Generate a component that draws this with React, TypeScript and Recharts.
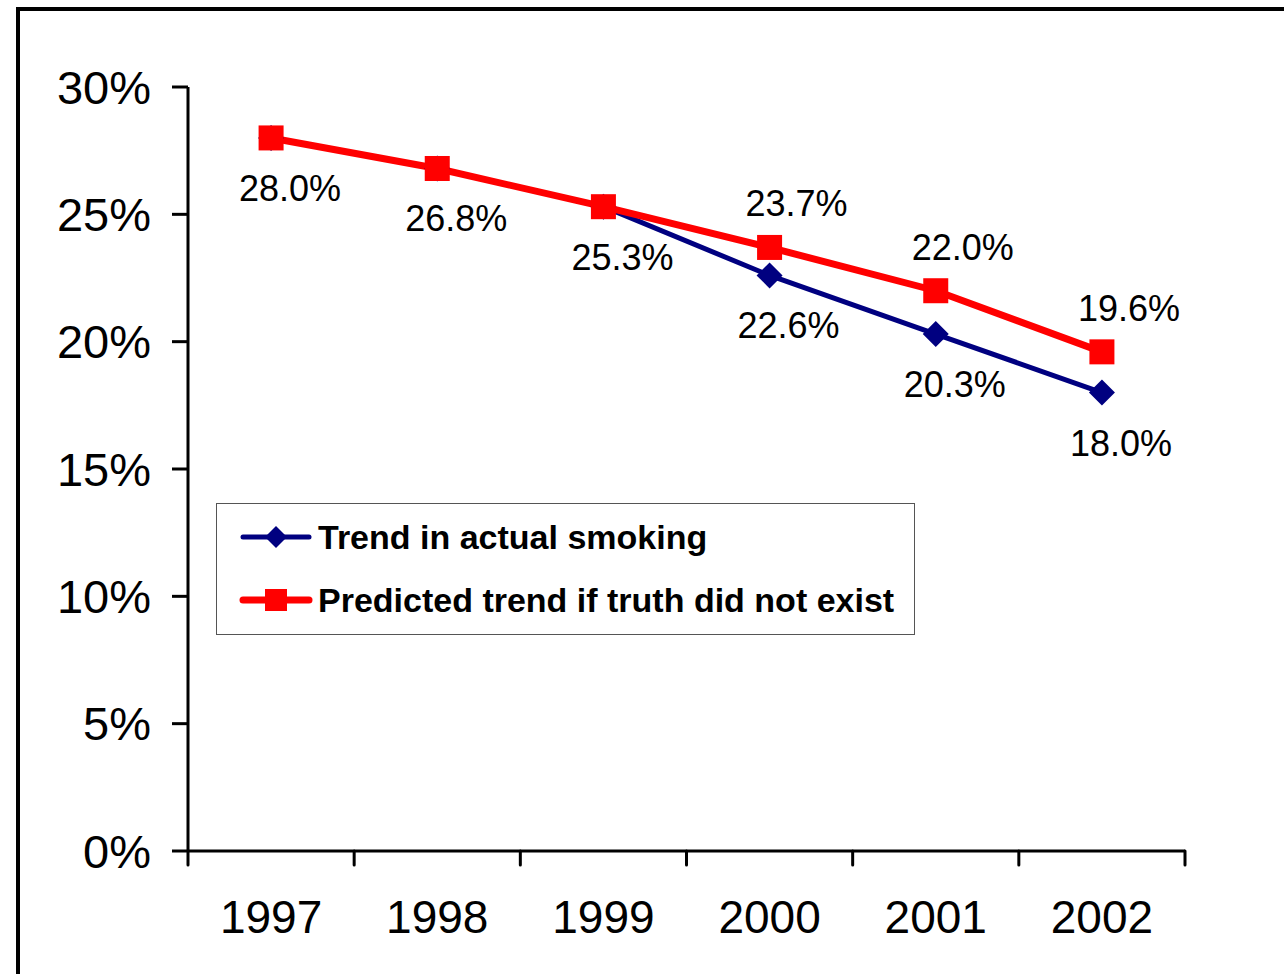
import { LabelList, Legend, Line, LineChart, XAxis, YAxis } from "recharts";

const years = ["1997", "1998", "1999", "2000", "2001", "2002"];
const actualSmoking = [28.0, 26.8, 25.3, 22.6, 20.3, 18.0];
const predictedNoTruth = [28.0, 26.8, 25.3, 23.7, 22.0, 19.6];
const yTicks = [0, 5, 10, 15, 20, 25, 30];
const seriesNames = ["Trend in actual smoking", "Predicted trend if truth did not exist"];
// predicted labels only where the two series split
const predictedLabelFrom = 3;

const font = '"Liberation Sans", Arial, Helvetica, sans-serif';
const navy = "#000080";
const red = "#ff0000";

const data = years.map((year, i) => ({
  x: i + 0.5,
  year,
  actual: actualSmoking[i],
  predicted: predictedNoTruth[i],
}));

// integer ticks = category boundaries, half ticks = year labels
const xTicks = Array.from({ length: years.length * 2 + 1 }, (_, i) => i / 2);

function XTick(props: any) {
  const { x, y, payload } = props;
  const v = Number(payload.value);
  if (Number.isInteger(v)) {
    return <line x1={x} x2={x} y1={y} y2={y + 14} stroke="#000" strokeWidth={3} strokeLinecap="round" />;
  }
  return (
    <text x={x} y={y + 82} textAnchor="middle" fontSize={46} fontFamily={font} fill="#000">
      {years[Math.floor(v)]}
    </text>
  );
}

function Diamond({ cx, cy, size = 13 }: { cx?: number; cy?: number; size?: number }) {
  if (cx == null || cy == null) return null;
  return (
    <path
      d={`M${cx},${cy - size} L${cx + size},${cy} L${cx},${cy + size} L${cx - size},${cy} Z`}
      fill={navy}
    />
  );
}

function Square({ cx, cy, size = 25 }: { cx?: number; cy?: number; size?: number }) {
  if (cx == null || cy == null) return null;
  return <rect x={cx - size / 2} y={cy - size / 2} width={size} height={size} fill={red} />;
}

function pointLabel(below: boolean, fromIndex: number, dx: number) {
  return (props: any) => {
    const { x, y, value, index } = props;
    if (index < fromIndex || x == null || y == null) return null;
    return (
      <text
        x={Number(x) + dx}
        y={below ? Number(y) + 63 : Number(y) - 31}
        textAnchor="middle"
        fontSize={36}
        fontFamily={font}
        fill="#000"
      >
        {`${Number(value).toFixed(1)}%`}
      </text>
    );
  };
}

function LegendBox() {
  return (
    <div
      style={{
        width: 699,
        height: 132,
        boxSizing: "border-box",
        border: "1px solid #555",
        background: "#fff",
        position: "relative",
        fontFamily: font,
        fontWeight: "bold",
        fontSize: 34,
        color: "#000",
      }}
    >
      <svg width={110} height={130} style={{ position: "absolute", left: 0, top: 0 }}>
        <line x1={26} x2={92} y1={33} y2={33} stroke={navy} strokeWidth={5} strokeLinecap="round" />
        <Diamond cx={59} cy={33} size={11} />
        <line x1={26} x2={92} y1={96} y2={96} stroke={red} strokeWidth={7} strokeLinecap="round" />
        <Square cx={59} cy={96} size={22} />
      </svg>
      <div style={{ position: "absolute", left: 101, top: 13, lineHeight: "40px", whiteSpace: "nowrap" }}>
        {seriesNames[0]}
      </div>
      <div style={{ position: "absolute", left: 101, top: 76, lineHeight: "40px", whiteSpace: "nowrap" }}>
        {seriesNames[1]}
      </div>
    </div>
  );
}

export default function App() {
  return (
    <div style={{ position: "fixed", inset: 0, overflow: "hidden", background: "#fff" }}>
      <div
        style={{
          position: "absolute",
          left: 16,
          top: 7,
          width: 1400,
          height: 1100,
          border: "4px solid #000",
        }}
      />
      <div style={{ position: "absolute", left: 0, top: 0 }}>
        <LineChart width={1284} height={974} data={data} margin={{ top: 87, right: 99, bottom: 0, left: 0 }}>
          <XAxis
            dataKey="x"
            type="number"
            domain={[0, years.length]}
            ticks={xTicks}
            interval={0}
            height={123}
            tickSize={0}
            tickMargin={0}
            tickLine={false}
            axisLine={{ stroke: "#000", strokeWidth: 3 }}
            tick={<XTick />}
          />
          <YAxis
            type="number"
            domain={[0, 30]}
            ticks={yTicks}
            interval={0}
            width={188}
            tickSize={16}
            tickMargin={21}
            tickFormatter={(v) => `${v}%`}
            tick={{ fontSize: 47, fill: "#000", fontFamily: font }}
            tickLine={{ stroke: "#000", strokeWidth: 3 }}
            axisLine={{ stroke: "#000", strokeWidth: 3 }}
          />
          <Legend
            layout="vertical"
            align="center"
            verticalAlign="middle"
            content={() => <LegendBox />}
            wrapperStyle={{ position: "absolute", left: 216, top: 503, width: 699, height: 132 }}
          />
          <Line
            dataKey="actual"
            name={seriesNames[0]}
            stroke={navy}
            strokeWidth={5}
            dot={(p: any) => <Diamond key={`a${p.index}`} cx={p.cx} cy={p.cy} />}
            activeDot={false}
            isAnimationActive={false}
          >
            <LabelList dataKey="actual" content={pointLabel(true, 0, 19)} />
          </Line>
          <Line
            dataKey="predicted"
            name={seriesNames[1]}
            stroke={red}
            strokeWidth={7}
            dot={(p: any) => <Square key={`p${p.index}`} cx={p.cx} cy={p.cy} />}
            activeDot={false}
            isAnimationActive={false}
          >
            <LabelList dataKey="predicted" content={pointLabel(false, predictedLabelFrom, 27)} />
          </Line>
        </LineChart>
      </div>
    </div>
  );
}
